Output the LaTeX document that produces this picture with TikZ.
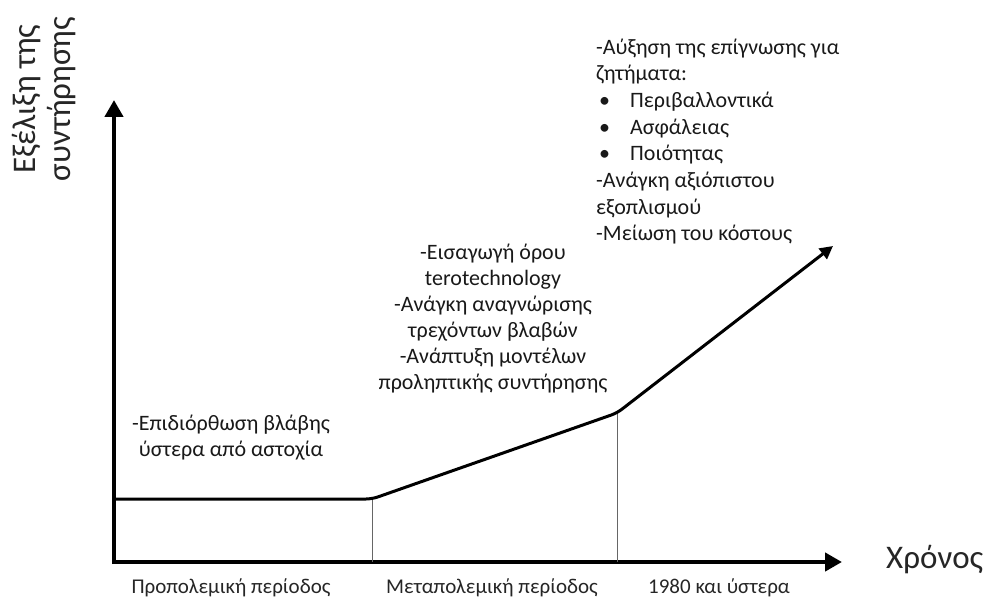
\documentclass[tikz,border=0pt]{standalone}
\usepackage{fontspec}
\setmainfont{Carlito}
\usetikzlibrary{arrows.meta}

\tikzset{
  axis/.style={line width=4.5pt, -{Triangle[width=18pt,length=17pt]}},
  trend/.style={line width=3pt, line join=round, rounded corners=6pt,
    -{Triangle[width=13pt,length=13pt]}},
  divider/.style={draw=black!60, line width=1pt},
  note/.style={inner sep=0pt, text=black!90, font=\fontsize{22}{26}\selectfont},
  period/.style={inner sep=0pt, font=\fontsize{21}{24}\selectfont, text=black!85},
  axislabel/.style={inner sep=0pt, font=\fontsize{33}{35}\selectfont, text=black!85},
}

\begin{document}
\begin{tikzpicture}[x=1pt,y=-1pt]
  \useasboundingbox (0,0) rectangle (990,601);

  % axes
  \coordinate (origin) at (114,562);
  \coordinate (ytip) at (114,100);
  \coordinate (xtip) at (842,562);
  \draw[axis] (origin) ++(0,2) -- (ytip);
  \draw[axis] (origin) ++(-2,0) -- (xtip);

  % trend of maintenance over time
  \coordinate (p0) at (114,499);
  \coordinate (p1) at (372,499);
  \coordinate (p2) at (617,413);
  \coordinate (p3) at (833,246);
  \coordinate (b1) at (372,562);
  \coordinate (b2) at (617,562);
  \draw[divider] (p1) -- (b1);
  \draw[divider] (p2) -- (b2);
  \draw[trend] (p0) -- (p1) -- (p2) -- (p3);

  % axis titles
  \node[axislabel, rotate=90, align=center] (ylab) at (44,99)
    {Εξέλιξη της\\συντήρησης};
  \node[axislabel, anchor=base west] (xlab) at (886,568) {Χρόνος};

  % periods
  \node[period] (per1) at (231,588) {Προπολεμική περίοδος};
  \node[period] (per2) at (492,588) {Μεταπολεμική περίοδος};
  \node[period] (per3) at (719,588) {1980 και ύστερα};

  % notes for each period (anchored at the baseline of their last line)
  \node[note, align=center, anchor=base] (n1) at (231,456)
    {-Επιδιόρθωση βλάβης\\ύστερα από αστοχία};
  \node[note, align=center, anchor=base] (n2) at (493,389)
    {-Εισαγωγή όρου\\terotechnology\\-Ανάγκη αναγνώρισης\\τρεχόντων βλαβών\\-Ανάπτυξη μοντέλων\\προληπτικής συντήρησης};
  \node[note, align=left, anchor=base west,
        font=\fontsize{22}{26.7}\selectfont] (n3) at (596,241)
    {-Αύξηση της επίγνωσης για\\ζητήματα:\\%
     \makebox[34pt][l]{\hspace{3pt}•}Περιβαλλοντικά\\%
     \makebox[34pt][l]{\hspace{3pt}•}Ασφάλειας\\%
     \makebox[34pt][l]{\hspace{3pt}•}Ποιότητας\\%
     -Ανάγκη αξιόπιστου\\εξοπλισμού\\-Μείωση του κόστους};
\end{tikzpicture}
\end{document}
